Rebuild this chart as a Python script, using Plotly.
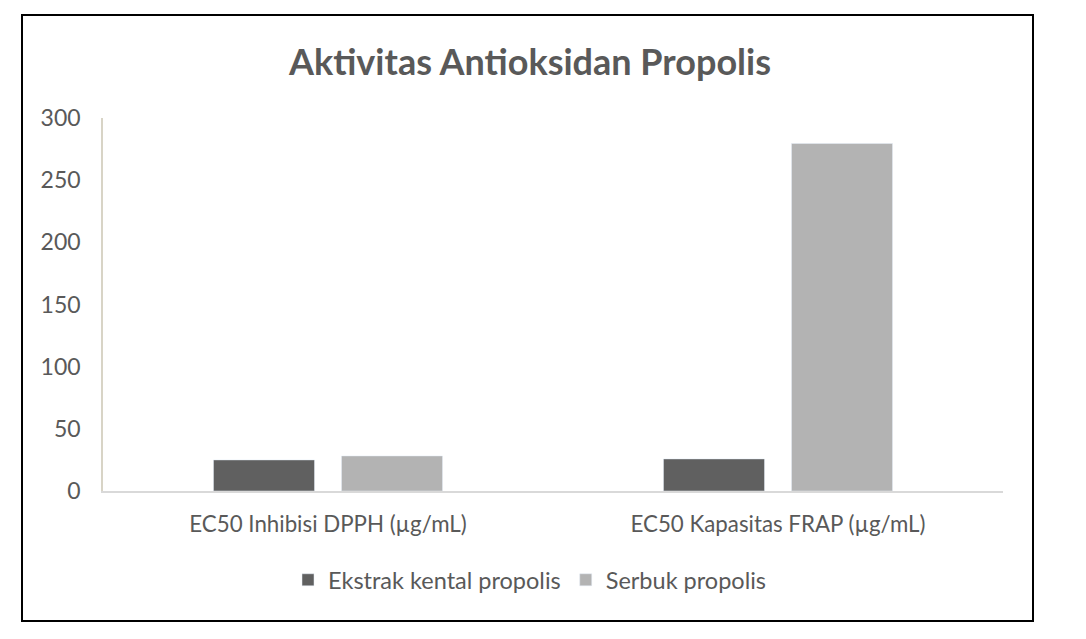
import plotly.graph_objects as go

categories = ["EC50 Inhibisi DPPH (µg/mL)", "EC50 Kapasitas FRAP (µg/mL)"]
ekstrak = [25.0, 25.8]
serbuk = [28.2, 279.5]
series_names = ["Ekstrak kental propolis", "Serbuk propolis"]
y_ticks = [0, 50, 100, 150, 200, 250, 300]

OFF = 8  # page body margin
W, H = 1086 - OFF, 639 - OFF
L, R, T, B = 103 - OFF, 1003 - OFF, 118 - OFF, 491 - OFF

def px_x(px):
    return (px - OFF - L) / (R - L)

def px_y(py):
    return (B - (py - OFF)) / (B - T)

FONT = "Lato, 'Open Sans', sans-serif"
TXT = "#595959"

fig = go.Figure()
fig.add_trace(go.Bar(x=categories, y=ekstrak, name=series_names[0], marker_color="#606060"))
fig.add_trace(go.Bar(x=categories, y=serbuk, name=series_names[1], marker_color="#b3b3b3"))

fig.update_layout(
    width=W, height=H,
    margin=dict(l=L, r=W - R, t=T, b=H - B, pad=0),
    paper_bgcolor="white", plot_bgcolor="white",
    barmode="group", bargap=0.431, bargroupgap=0.211,
    title=dict(text="<b>Aktivitas Antioksidan Propolis</b>", x=(530 - OFF) / W, xanchor="center",
               y=1 - (62 - OFF) / H, yanchor="middle",
               font=dict(family=FONT, size=36, color=TXT)),
    font=dict(family=FONT, color=TXT, size=22),
    legend=dict(orientation="h", x=px_x(530), xanchor="center", y=px_y(580), yanchor="middle",
                font=dict(family=FONT, size=23.5, color=TXT),
                traceorder="normal"),
    showlegend=True,
)
fig.update_yaxes(range=[0, 300], tickvals=y_ticks, showgrid=False, zeroline=False,
                 showline=True, linecolor="#d8d4c6", linewidth=1.5,
                 ticks="", ticklabelstandoff=16,
                 tickfont=dict(family=FONT, size=23, color=TXT), fixedrange=True)
fig.update_xaxes(showline=True, linecolor="#d9d9d9", linewidth=1.5, ticks="",
                 ticklabelstandoff=12, showgrid=False,
                 tickfont=dict(family=FONT, size=22.3, color=TXT))

fig.add_shape(type="rect", xref="paper", yref="paper",
              x0=px_x(22), x1=px_x(1033), y0=px_y(621), y1=px_y(15),
              line=dict(color="black", width=2), fillcolor="rgba(0,0,0,0)", layer="below")

fig.write_html("out.html")
